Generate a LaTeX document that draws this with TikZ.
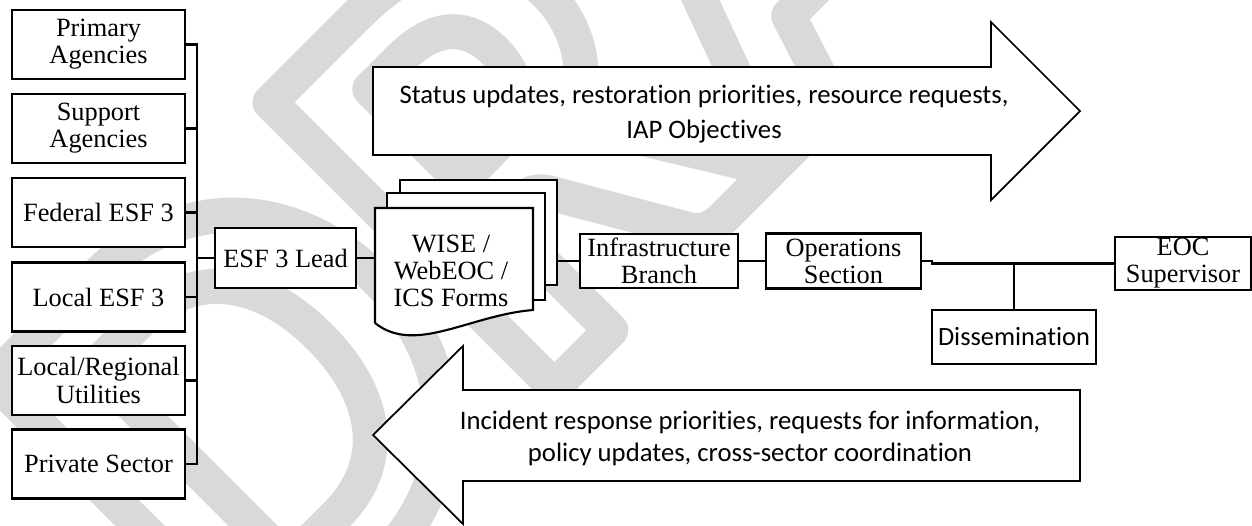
\documentclass[tikz,border=0pt]{standalone}
\usepackage{fontspec}
\setmainfont{Liberation Serif}
\newfontfamily\calibri[Ligatures=NoCommon]{Carlito}
\definecolor{draftgray}{RGB}{217,217,217}
% hollow letters: stroke the glyph outlines only
\newcommand\outlinetext[1]{\special{pdf:literal direct q 1 Tr 19.8 w 1 j}#1\special{pdf:literal direct Q}}

\begin{document}
\begin{tikzpicture}[x=0.02cm,y=-0.02cm,line width=1.2pt,
    box/.style={draw,fill=white,align=center,inner sep=0pt,font=\fontsize{15}{15.4}\selectfont},
    src/.style={box,minimum width=3.46cm,minimum height=1.38cm},
    flowarrow/.style={draw,fill=white,line width=1pt,line join=miter},
    note/.style={align=center,inner sep=0pt,font=\calibri\fontsize{15.2}{19.4}\selectfont}]
  \useasboundingbox (0,0) rectangle (1252,525);
  \begin{scope}
    \clip (0,0) rectangle (1252,525);
    \node[rotate=45,anchor=base west,inner sep=0pt,text=draftgray,
      font=\calibri\bfseries\fontsize{353}{353}\selectfont] (draft) at (252,689) {\outlinetext{DRAFT}};
  \end{scope}

  % partners feeding the lead
  \node[src] (prim) at (98.5,44.5) {Primary\\Agencies};
  \node[src] (supp) at (98.5,128.5) {Support\\Agencies};
  \node[src] (fed)  at (98.5,212.5) {Federal ESF 3};
  \node[src] (loc)  at (98.5,297) {Local ESF 3};
  \node[src] (util) at (98.5,380.5) {Local/Regional\\Utilities};
  \node[src] (priv) at (98.5,464) {Private Sector};
  \coordinate (bus) at (197,258);
  \draw (prim.east) -| (bus) |- (priv.east);
  \foreach \n in {supp,fed,loc,util} \draw (\n.east) -- (\n.east -| bus);

  \node[box,minimum width=2.82cm,minimum height=1.2cm] (lead) at (285.5,258) {ESF 3 Lead};
  \draw (bus) -- (lead.west);

  % stacked forms
  \draw[fill=white] (400,180) rectangle (557,285);
  \draw[fill=white] (387,193) rectangle (545,300);
  \draw[fill=white] (375,323) -- (375,208) -- (533,208) -- (533,310)
    .. controls (470,315) and (415,355) .. (375,323);
  \node[inner sep=0pt,align=center,font=\fontsize{15}{15.4}\selectfont] (forms) at (451,271) {WISE /\\WebEOC /\\ICS Forms};
  \coordinate (formsin) at (375,258);
  \coordinate (formsout) at (557,261);
  \draw (lead.east) -- (formsin);

  \node[box,minimum width=3.16cm,minimum height=1.08cm] (infra) at (659,261) {Infrastructure\\Branch};
  \node[box,minimum width=3.1cm,minimum height=1.1cm] (ops) at (843.5,261) {Operations\\Section};
  \node[box,minimum width=2.72cm,minimum height=1.06cm] (eoc) at (1183,263.5) {EOC\\Supervisor};
  \node[box,minimum width=3.28cm,minimum height=1.08cm,font=\calibri\fontsize{15}{18}\selectfont] (dissem) at (1014,337) {Dissemination};
  \draw (formsout) -- (infra.west);
  \draw (infra) -- (ops);
  \draw (ops.east) -- ++(10,0) |- (eoc.west);
  \draw (dissem.north) -- (dissem.north |- eoc.west);

  % information flows
  \draw[flowarrow] (373,67) -- (991,67) -- (991,22) -- (1080,111) -- (991,200) -- (991,155) -- (373,155) -- cycle;
  \node[note] (upflow) at (704,114) {Status updates, restoration priorities, resource requests,\\IAP Objectives};
  \draw[flowarrow] (1080,390) -- (463,390) -- (463,346) -- (373,435) -- (463,524) -- (463,481) -- (1080,481) -- cycle;
  \node[note,font=\calibri\fontsize{15.2}{18.2}\selectfont] (downflow) at (750,438) {Incident response priorities, requests for information,\\policy updates, cross-sector coordination};
\end{tikzpicture}
\end{document}
